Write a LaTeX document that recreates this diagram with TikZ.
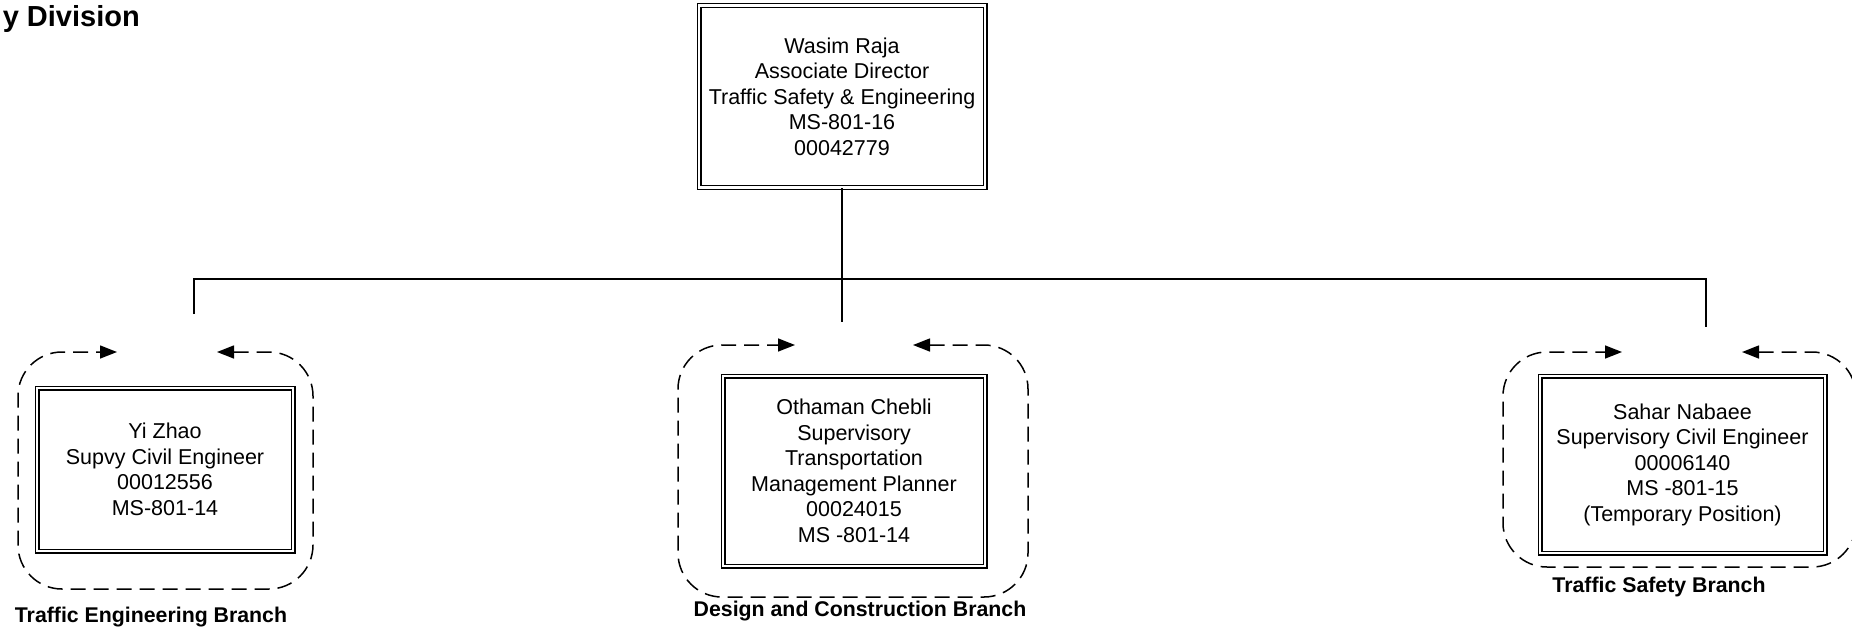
\documentclass[tikz,border=0pt]{standalone}
\usepackage{fontspec}
\setmainfont{Liberation Sans}
\usetikzlibrary{arrows.meta}
\begin{document}
\begin{tikzpicture}[x=1pt,y=-1pt,
  person/.style={draw, double, double distance=2.4pt, line width=1.3pt, align=center,
    inner sep=0pt, font=\fontsize{21.5}{25.5}\selectfont},
  orgline/.style={line width=1.5pt},
  cyclebox/.style={line width=1.5pt, dash pattern=on 15pt off 8pt, rounded corners=44pt,
    {Triangle[length=17pt,width=13pt]}-{Triangle[length=17pt,width=13pt]}},
  branch/.style={font=\bfseries\fontsize{21.3}{25}\selectfont, anchor=base, inner sep=0pt},
]
\useasboundingbox (0,0) rectangle (1852,630);

% title (clipped at left edge)
\node[font=\bfseries\fontsize{29}{33}\selectfont, anchor=base east, inner sep=0pt] (title) at (140,26) {y Division};

% people
\node[person, minimum width=286pt, minimum height=182pt] (wasim) at (842,96.5)
  {Wasim Raja\\Associate Director\\Traffic Safety \& Engineering\\MS-801-16\\00042779};
\node[person, minimum width=256pt, minimum height=163pt] (yi) at (165,469.5)
  {Yi Zhao\\Supvy Civil Engineer\\00012556\\MS-801-14};
\node[person, minimum width=262pt, minimum height=190pt] (oth) at (854,471)
  {Othaman Chebli\\Supervisory\\Transportation\\Management Planner\\00024015\\MS -801-14};
\node[person, minimum width=285pt, minimum height=177pt] (sahar) at (1682.5,464.5)
  {Sahar Nabaee\\Supervisory Civil Engineer\\00006140\\MS -801-15\\(Temporary Position)};

% org connectors
\coordinate (midend) at (842,322);
\coordinate (leftend) at (194,314);
\coordinate (rightend) at (1706,327);
\coordinate (bar) at (842,279);
\draw[orgline] (wasim.south) -- (midend);
\draw[orgline] (leftend) -- (leftend |- bar) -- (rightend |- bar) -- (rightend);

% dashed cycle loops
\coordinate (yiL) at (117,352);   \coordinate (yiR) at (217,352);
\coordinate (othL) at (795,345);  \coordinate (othR) at (913,345);
\coordinate (saL) at (1622,352);  \coordinate (saR) at (1742,352);
\draw[cyclebox] (yiR) -- (313,352) -- (313,589) -- (18,589) -- (18,352) -- (yiL);
\draw[cyclebox] (othR) -- (1028,345) -- (1028,597) -- (678,597) -- (678,345) -- (othL);
\draw[cyclebox] (saR) -- (1856,352) -- (1856,567) -- (1503,567) -- (1503,352) -- (saL);

% branch labels
\node[branch] (tebr) at (151,622) {Traffic Engineering Branch};
\node[branch] (dcbr) at (860,616) {Design and Construction Branch};
\node[branch] (tsbr) at (1659,592) {Traffic Safety Branch};
\end{tikzpicture}
\end{document}
